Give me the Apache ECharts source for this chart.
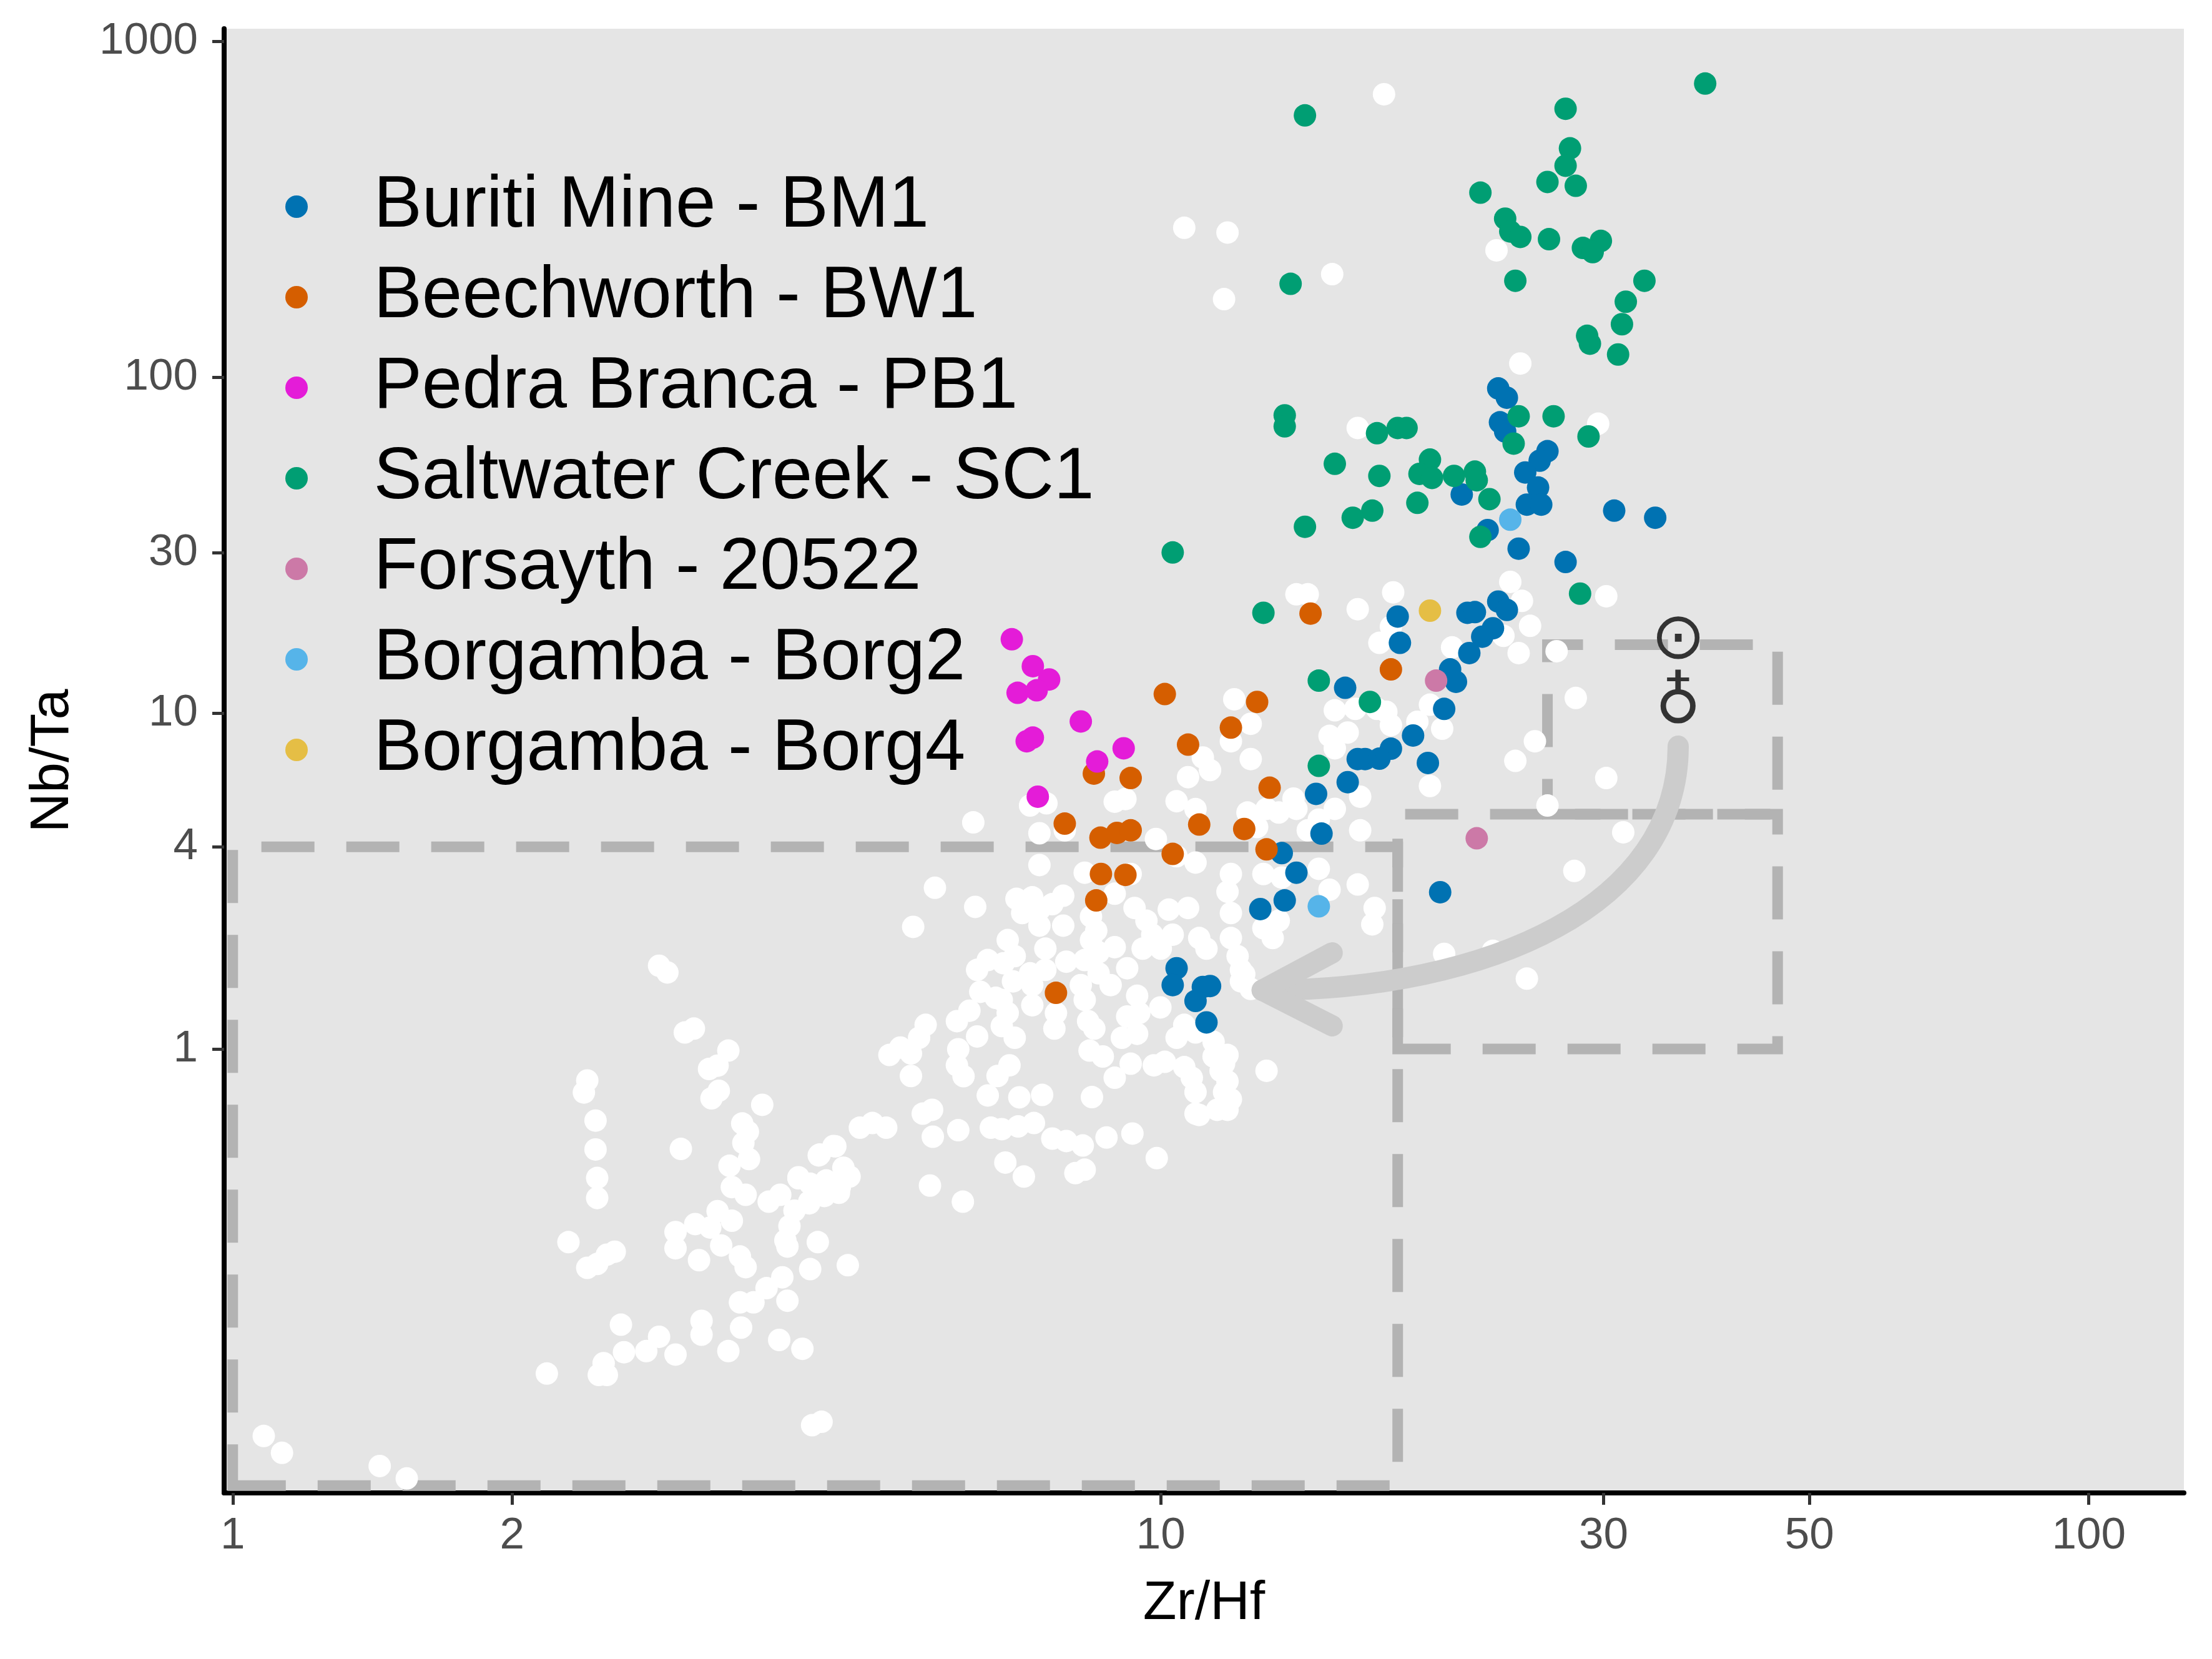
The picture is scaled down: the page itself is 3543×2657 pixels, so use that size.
<!DOCTYPE html>
<html>
<head>
<meta charset="utf-8">
<title>Nb/Ta vs Zr/Hf</title>
<script src="https://cdn.jsdelivr.net/npm/echarts@6.0.0/dist/echarts.min.js"></script>
<style>
  html, body { margin: 0; padding: 0; background: #ffffff; }
  #chart { width: 3543px; height: 2657px; }
</style>
</head>
<body>
<div id="chart"></div>
<script>
const FONT = 'Liberation Sans, Arial, sans-serif';

// axis ticks
const xTicks = [1, 2, 10, 30, 50, 100];
const yTicks = [1, 4, 10, 30, 100, 1000];

const seriesNames = ['Buriti Mine - BM1', 'Beechworth - BW1', 'Pedra Branca - PB1',
  'Saltwater Creek - SC1', 'Forsayth - 20522', 'Borgamba - Borg2', 'Borgamba - Borg4'];
const seriesColors = ['#0072B2', '#D55E00', '#E41CD8', '#009E73', '#CC79A7', '#56B4E9', '#E5BE45'];

// [Zr/Hf, Nb/Ta]
const other = [
  [1.08,0.0704],[1.13,0.0627],[1.44,0.0573],[1.54,0.0526],[2.18,0.108],[2.30,0.266],[2.41,0.223],[2.47,0.229],[2.53,0.244],[2.58,0.249],
  [2.41,0.806],[2.39,0.742],[2.46,0.612],[2.46,0.502],[2.47,0.413],[2.47,0.360],[2.62,0.151],[2.88,0.139],[2.64,0.125],[2.79,0.126],
  [3.00,0.123],[2.51,0.116],[2.48,0.107],[2.53,0.107],[3.20,0.155],[3.20,0.141],[3.42,0.126],[3.53,0.148],[3.88,0.136],[4.11,0.128],
  [4.21,0.0758],[4.31,0.0776],[3.07,1.12],[3.14,1.15],[3.42,0.989],[3.26,0.872],[3.33,0.892],[3.28,0.713],[3.34,0.751],[3.72,0.682],
  [3.54,0.600],[3.59,0.567],[3.55,0.525],[3.60,0.470],[3.04,0.504],[3.43,0.449],[3.45,0.388],[3.57,0.368],[3.78,0.351],[3.89,0.368],
  [4.07,0.415],[4.29,0.485],[4.44,0.514],[4.34,0.380],[4.51,0.388],[4.18,0.351],[3.00,0.285],[3.00,0.255],[3.15,0.301],[3.33,0.329],
  [3.27,0.294],[3.45,0.308],[3.18,0.235],[3.36,0.260],[3.52,0.241],[3.57,0.224],[3.98,0.297],[3.94,0.269],[3.96,0.258],[4.27,0.266],
  [4.19,0.221],[3.91,0.209],[3.76,0.194],[3.64,0.176],[3.52,0.176],[3.96,0.178],[4.60,0.227],[2.88,1.77],[2.94,1.69],
  [6.28,4.73],[7.23,5.31],[7.53,5.39],[8.92,5.45],[9.16,5.55],[10.4,5.47],[10.9,5.18],[7.40,4.39],[7.88,4.48],[9.88,4.22],
  [10.4,3.75],[10.9,3.59],[7.40,3.53],[8.28,3.35],[9.28,3.32],[8.92,2.90],[5.71,3.02],[6.31,2.65],[5.41,2.31],[6.99,2.80],
  [7.27,2.83],[7.09,2.54],[7.40,2.60],[7.64,2.70],[7.85,2.86],[7.85,2.33],[7.40,2.33],[8.41,2.48],[8.52,2.25],[8.41,2.11],
  [9.37,2.63],[9.65,2.41],[9.79,2.19],[10.2,2.60],[10.7,2.63],[10.3,2.19],[11.0,2.14],[11.2,1.99],[11.9,3.32],[11.8,2.94],
  [11.9,2.54],[11.9,2.14],[12.2,1.72],[12.2,1.59],[6.84,2.11],[6.96,1.89],[7.51,1.99],[6.51,1.84],[6.34,1.72],[6.77,1.80],
  [6.93,1.59],[7.23,1.68],[7.51,1.72],[7.91,1.82],[8.28,1.84],[8.57,1.94],[8.92,2.01],[9.20,1.74],[8.57,1.68],[8.83,1.55],
  [9.56,1.99],[10.0,1.99],[9.43,1.44],[9.99,1.33],[8.20,1.55],[8.28,1.40],[6.39,1.48],[6.64,1.42],[6.74,1.40],[7.27,1.35],
  [7.27,1.55],[7.71,1.28],[7.68,1.15],[6.22,1.30],[6.03,1.21],[6.34,1.09],[6.84,1.28],[6.96,1.08],[6.74,1.17],[8.35,1.21],
  [8.48,1.15],[9.20,1.25],[9.48,1.28],[9.43,1.11],[9.08,1.08],[10.6,1.18],[10.4,1.08],[10.9,1.12],[11.4,1.05],[11.8,0.960],
  [8.38,0.989],[8.66,0.950],[8.92,0.821],[9.28,0.904],[9.83,0.894],[10.1,0.916],[10.6,0.883],[10.8,0.821],[11.6,0.861],[11.4,0.950],
  [10.9,0.744],[11.7,0.744],[11.0,0.636],[11.8,0.659],[8.43,0.719],[5.58,1.18],[5.49,1.08],[5.38,0.970],[5.10,0.960],[5.24,1.01],
  [5.38,0.831],[6.05,0.998],[6.03,0.894],[6.13,0.830],[6.87,0.894],[6.67,0.831],[6.51,0.727],[7.04,0.718],[7.45,0.730],[5.67,0.659],
  [5.54,0.642],[5.68,0.548],[6.05,0.573],[6.56,0.583],[6.74,0.577],[7.02,0.588],[7.30,0.602],[7.64,0.541],[7.91,0.532],[8.24,0.516],
  [8.74,0.545],[9.32,0.560],[8.09,0.427],[8.28,0.437],[6.80,0.459],[7.12,0.417],[9.90,0.473],[5.64,0.392],[6.12,0.351],[4.74,0.583],
  [4.89,0.602],[5.06,0.583],[4.28,0.482],[4.46,0.513],[4.55,0.443],[4.62,0.417],[4.07,0.412],[4.19,0.397],[4.36,0.406],[4.50,0.373],
  [4.34,0.365],[4.18,0.347],[4.03,0.330],
  [14.0,22.6],[14.4,22.6],[17.8,22.9],[16.3,20.4],[17.7,18.1],[17.2,16.2],[23.8,24.6],[24.5,21.6],[25.0,18.2],[23.4,17.0],
  [24.3,15.1],[20.6,15.7],[30.2,22.3],[28.0,11.1],[25.3,8.25],[24.1,7.21],[30.2,6.41],[26.1,5.31],[31.5,4.42],[27.9,3.39],
  [24.8,1.62],[22.8,1.96],[20.2,1.92],[19.5,6.07],[20.1,8.99],[19.5,10.6],[18.9,9.43],[15.4,10.2],[16.2,10.3],[17.5,10.1],
  [17.7,9.21],[15.2,8.56],[15.9,8.76],[17.1,10.3],[15.4,7.86],[16.4,5.64],[13.9,5.57],[13.4,5.06],[13.0,5.19],[15.4,5.19],
  [14.8,4.82],[14.4,4.48],[16.4,4.48],[14.0,5.19],[12.9,3.32],[13.5,3.24],[14.8,3.44],[15.2,2.98],[16.3,3.09],[17.0,2.63],
  [16.9,2.35],[12.0,11.0],[11.9,8.25],[12.5,9.30],[12.5,7.30],[11.1,7.38],[11.3,6.77],[10.7,6.45],[12.4,5.06],[12.7,4.58],
  [13.2,2.14],[12.9,2.29],[13.4,2.41],[13.0,0.861],[12.1,1.89],[12.3,1.67],[12.5,1.51],[11.7,0.904],[11.8,0.801],[11.9,0.708],
  [11.5,0.659],[10.9,0.642],[26.7,15.3],
  [17.4,697],[10.6,279],[11.8,270],[15.3,203],[11.7,171],[23.0,239],[24.4,110],[16.3,70.7],[29.6,72.8]
];

const bm1 = [
  [23.1,92.7],[23.6,87.0],[23.2,73.5],[23.5,69.0],[26.1,60.3],[25.6,56.5],[24.7,52.1],[25.5,47.0],[24.8,41.8],[25.7,41.8],
  [21.1,44.8],[30.8,40.1],[34.1,38.2],[22.5,35.1],[24.3,30.9],[27.3,28.2],[18.0,19.4],[21.4,19.9],[21.8,20.0],[23.1,21.5],
  [23.6,20.3],[22.8,17.9],[22.2,16.9],[18.1,16.2],[21.5,15.1],[20.5,13.5],[20.8,12.4],[15.8,11.9],[20.2,10.3],[18.7,8.58],
  [17.7,7.84],[17.2,7.32],[16.6,7.30],[16.3,7.30],[19.4,7.11],[15.9,6.23],[14.7,5.75],[14.9,4.38],[13.5,3.83],[14.0,3.35],
  [20.0,2.93],[13.6,2.77],[12.8,2.61],[10.4,1.74],[10.3,1.55],[11.1,1.53],[11.3,1.54],[10.9,1.39],[11.2,1.20]
];
const bw1 = [
  [14.5,19.8],[17.7,13.5],[10.1,11.4],[12.7,10.8],[11.9,9.06],[10.7,8.06],[8.47,6.61],[9.28,6.41],[13.1,6.00],[7.88,4.69],
  [8.61,4.26],[8.97,4.40],[9.28,4.48],[11.0,4.66],[12.3,4.52],[13.0,3.93],[10.3,3.81],[8.62,3.32],[9.16,3.30],[8.52,2.77],
  [7.71,1.47]
];
const pb1 = [
  [6.91,16.6],[7.28,13.8],[7.58,12.6],[7.01,11.5],[7.35,11.7],[8.20,9.45],[7.17,8.25],[7.28,8.46],[9.12,7.86],[8.54,7.18],
  [7.37,5.64]
];
const sc1 = [
  [38.6,750],[14.3,603],[27.3,631],[27.6,481],[27.3,427],[26.1,382],[28.0,372],[22.1,355],[23.5,297],[23.8,272],
  [24.4,262],[26.2,258],[28.5,243],[29.8,255],[29.2,236],[33.2,194],[13.8,190],[24.1,194],[31.7,168],[31.4,144],
  [28.8,133],[29.0,126],[31.1,117],[13.6,77.1],[13.6,71.5],[17.1,68.2],[18.0,70.7],[18.4,70.7],[24.3,76.6],[26.5,76.6],
  [28.9,66.7],[24.0,63.5],[15.4,55.3],[19.5,56.9],[19.0,51.6],[19.6,50.2],[17.2,50.9],[20.7,50.9],[21.8,52.4],[21.9,49.4],
  [22.6,43.4],[18.9,42.3],[16.9,40.1],[16.1,38.2],[14.3,35.9],[22.1,33.5],[10.3,30.1],[28.3,22.7],[12.9,19.9],[14.8,12.5],
  [16.8,10.8],[14.8,6.97]
];
const forsayth = [[19.8,12.5],[21.9,4.24]];
const borg2 = [[23.8,37.7],[14.8,2.66]];
const borg4 = [[19.5,20.2]];

// dashed reference boxes: [[xMin, yMin], [xMax, yMax]]
const boxes = [
  [[1, 0.0501], [18, 4]],
  [[18, 1], [46.2, 5]],
  [[26.1, 5], [46.2, 16]]
];

// curved arrow (data coords): start, control 1, control 2, tip, head arms
const arrowStart = [36.1, 7.98];
const arrowC1 = [36.1, 2.69];
const arrowC2 = [22.7, 1.496];
const arrowTip = [12.86, 1.496];
const arrowArmA = [15.3, 1.933];
const arrowArmB = [15.3, 1.172];
const sunPos = [36.1, 16.4];
const earthPos = [36.1, 10.5];

const groups = [bm1, bw1, pb1, sc1, forsayth, borg2, borg4];

const chart = echarts.init(document.getElementById('chart'), null, { renderer: 'canvas' });

const series = [
  {
    name: 'other', type: 'scatter', data: other, symbol: 'circle', symbolSize: 36, z: 2,
    itemStyle: { color: '#FFFFFF', opacity: 1 }, silent: true, emphasis: { disabled: true }
  },
  {
    name: 'boxes', type: 'scatter', data: [], z: 3, silent: true,
    markArea: {
      silent: true,
      label: { show: false },
      itemStyle: { color: 'rgba(0,0,0,0)', borderColor: '#B3B3B3', borderWidth: 17, borderType: [85, 51] },
      emphasis: { disabled: true },
      data: boxes.map(b => [{ coord: b[0] }, { coord: b[1] }])
    }
  }
];
groups.forEach((g, i) => {
  series.push({
    name: seriesNames[i], type: 'scatter', data: g, symbol: 'circle', symbolSize: 36, z: 4,
    itemStyle: { color: seriesColors[i], opacity: 1 }, emphasis: { disabled: true }
  });
});

const option = {
  animation: false,
  backgroundColor: '#FFFFFF',
  textStyle: { fontFamily: FONT },
  grid: {
    left: 359, right: 45, top: 46, bottom: 266,
    containLabel: false, outerBoundsMode: 'none',
    show: true, backgroundColor: '#E5E5E5', borderWidth: 0
  },
  legend: {
    data: seriesNames, orient: 'vertical', left: 452, top: 268, padding: 5,
    icon: 'circle', itemWidth: 237, itemHeight: 36, itemGap: 29,
    selectedMode: false,
    textStyle: { fontSize: 116, lineHeight: 116, color: '#000000', fontFamily: FONT }
  },
  xAxis: {
    type: 'log', logBase: 10, min: 0.9789, max: 126.6,
    name: 'Zr/Hf', nameLocation: 'middle', nameGap: 134, nameMoveOverlap: false,
    nameTextStyle: { fontSize: 88, color: '#000000', fontFamily: FONT },
    axisLine: { show: true, onZero: false, lineStyle: { color: '#000000', width: 8 } },
    axisTick: { show: true, customValues: xTicks, length: 19, lineStyle: { color: '#333333', width: 5 } },
    axisLabel: { customValues: xTicks, fontSize: 71, color: '#4D4D4D', margin: 34, fontFamily: FONT,
      formatter: v => String(v) },
    splitLine: { show: false }, minorTick: { show: false }, minorSplitLine: { show: false }
  },
  yAxis: {
    type: 'log', logBase: 10, min: 0.04764, max: 1092.3,
    name: 'Nb/Ta', nameLocation: 'middle', nameGap: 230, nameMoveOverlap: false,
    nameTextStyle: { fontSize: 88, color: '#000000', fontFamily: FONT },
    axisLine: { show: true, onZero: false, lineStyle: { color: '#000000', width: 8 } },
    axisTick: { show: true, customValues: yTicks, length: 19, lineStyle: { color: '#333333', width: 5 } },
    axisLabel: { customValues: yTicks, fontSize: 71, color: '#4D4D4D', margin: 42, fontFamily: FONT,
      formatter: v => String(v) },
    splitLine: { show: false }, minorTick: { show: false }, minorSplitLine: { show: false }
  },
  series: series
};

chart.setOption(option);

// annotations placed through the axes' own scales
const P = v => chart.convertToPixel({ gridIndex: 0 }, v);
const s = P(arrowStart), c1 = P(arrowC1), c2 = P(arrowC2), e = P(arrowTip);
const ha = P(arrowArmA), hb = P(arrowArmB);
const sun = P(sunPos), earth = P(earthPos);

chart.setOption({
  graphic: [
    {
      type: 'bezierCurve', z: 100, silent: true,
      shape: { x1: s[0], y1: s[1], cpx1: c1[0], cpy1: c1[1], cpx2: c2[0], cpy2: c2[1], x2: e[0], y2: e[1] },
      style: { stroke: '#CCCCCC', lineWidth: 34, lineCap: 'round', fill: 'none' }
    },
    {
      type: 'polyline', z: 100, silent: true,
      shape: { points: [ha, e, hb] },
      style: { stroke: '#CCCCCC', lineWidth: 34, lineCap: 'round', lineJoin: 'round', fill: 'none' }
    },
    {
      type: 'text', z: 101, silent: true, x: sun[0], y: sun[1],
      style: { text: '\u2299', fontSize: 104, fontFamily: 'DejaVu Sans', fill: '#333333',
        align: 'center', verticalAlign: 'middle' }
    },
    {
      type: 'text', z: 101, silent: true, x: earth[0], y: earth[1],
      style: { text: '\u2641', fontSize: 100, fontFamily: 'DejaVu Sans', fill: '#333333',
        align: 'center', verticalAlign: 'middle' }
    }
  ]
});
</script>
</body>
</html>
